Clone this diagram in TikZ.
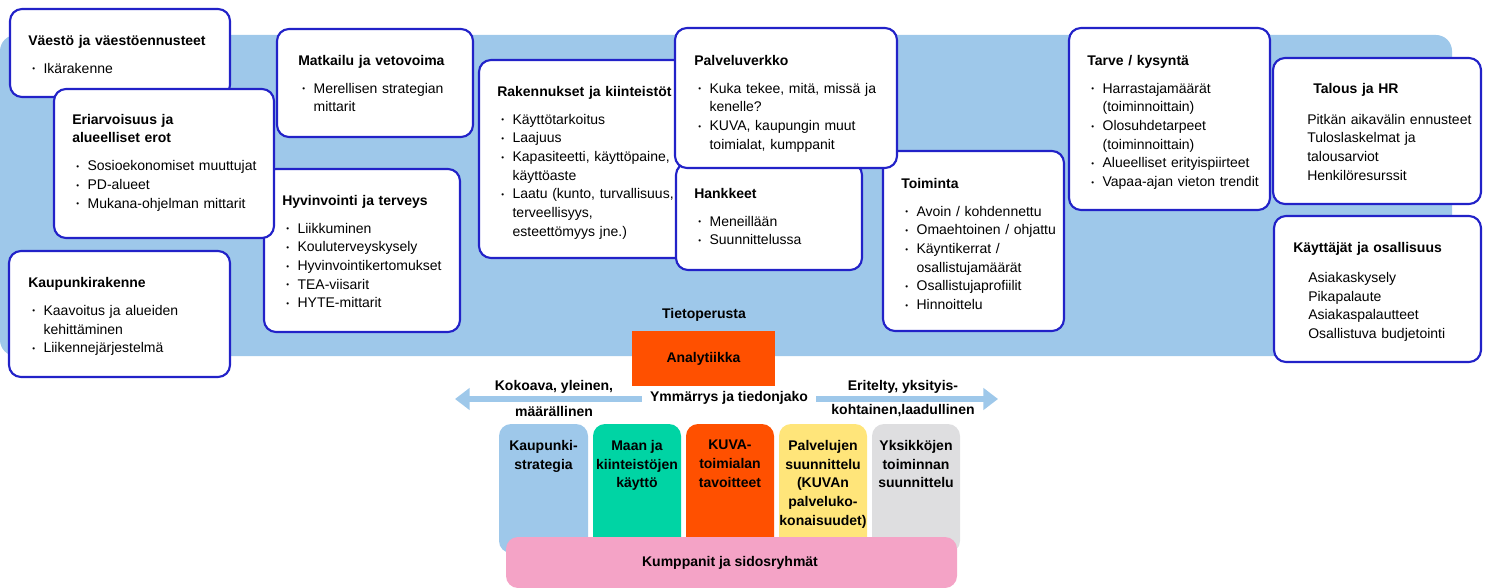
\documentclass[tikz,border=0pt]{standalone}
\usepackage{fontspec}
\setmainfont{Liberation Sans}
\usetikzlibrary{fit,arrows.meta}
\definecolor{bgblue}{HTML}{9EC8EA}
\definecolor{bordblue}{HTML}{2222C8}
\definecolor{korange}{HTML}{FF5000}
\definecolor{kteal}{HTML}{00D4A4}
\definecolor{kyellow}{HTML}{FFE57A}
\definecolor{kgrey}{HTML}{DEDEE0}
\definecolor{kpink}{HTML}{F4A3C6}
\setlength\parindent{0pt}
\newcommand\ttl[1]{\strut{\bfseries #1}\par\vspace{7pt}}
\newcommand\bu{\par\noindent\makebox[11.5pt][l]{\hspace{3pt}\raisebox{1.2pt}{\fontsize{6}{6}\selectfont\textbullet}}}
\newcommand\nl{\newline\hspace*{11.5pt}}
\tikzset{
  box/.style={draw=bordblue, line width=1.6pt, fill=white, rounded corners=9pt, inner sep=0pt},
  txt/.style={anchor=north west, inner sep=0pt, text width=230pt, align=left, font=\fontsize{10.5}{14}\selectfont},
  lbl/.style={inner sep=0pt, font=\fontsize{10.5}{14}\selectfont\bfseries},
  col/.style={rounded corners=9pt, inner sep=0pt},
  coltxt/.style={anchor=north, inner sep=0pt, align=center, font=\fontsize{10.5}{14}\selectfont\bfseries, execute at begin node=\strut},
  arr/.style={draw=bgblue, line width=4pt, {Triangle[length=11pt,width=16pt]}-{Triangle[length=11pt,width=16pt]}}
}
\begin{document}
\begin{tikzpicture}[x=0.75pt,y=-0.75pt]
\useasboundingbox (0,0) rectangle (1489,588);
% background band
\node[fill=bgblue, rounded corners=12pt, inner sep=0pt, fit={(0,35) (1452,356)}] (bg) {};

% boxes, back to front
\node[box, fit={(264,169) (460,332)}] (b5) {};
\node[box, fit={(10,9) (230,97)}] (b1) {};
\node[box, fit={(54,89) (274,238)}] (b2) {};
\node[box, fit={(9,251) (230,377)}] (b3) {};
\node[box, fit={(277,29) (473,137)}] (b4) {};
\node[box, fit={(479,60) (705,258)}] (b6) {};
\node[box, fit={(676,163) (862,270)}] (b8) {};
\node[box, fit={(883,151) (1064,331)}] (b9) {};
\node[box, fit={(675,28) (897,168)}] (b7) {};
\node[box, fit={(1069,28) (1270,210)}] (b10) {};
\node[box, fit={(1273,58) (1481,204)}] (b11) {};
\node[box, fit={(1274,216) (1481,362)}] (b12) {};

% box texts
\node[txt] (t1) at (28,32) {\ttl{Väestö ja väestöennusteet}\bu Ikärakenne};
\node[txt] (t2) at (72,111) {\ttl{Eriarvoisuus ja\newline alueelliset erot}\bu Sosioekonomiset muuttujat\bu PD-alueet\bu Mukana-ohjelman mittarit};
\node[txt] (t3) at (28,274) {\ttl{Kaupunkirakenne}\bu Kaavoitus ja alueiden\nl kehittäminen\bu Liikennejärjestelmä};
\node[txt] (t4) at (298,52) {\ttl{Matkailu ja vetovoima}\bu Merellisen strategian\nl mittarit};
\node[txt] (t5) at (282,192) {\ttl{Hyvinvointi ja terveys}\bu Liikkuminen\bu Kouluterveyskysely\bu Hyvinvointikertomukset\bu TEA-viisarit\bu HYTE-mittarit};
\node[txt] (t6) at (497,83) {\ttl{Rakennukset ja kiinteistöt}\bu Käyttötarkoitus\bu Laajuus\bu Kapasiteetti, käyttöpaine,\nl käyttöaste\bu Laatu (kunto, turvallisuus,\nl terveellisyys,\nl esteettömyys jne.)};
\node[txt] (t8) at (694,185) {\ttl{Hankkeet}\bu Meneillään\bu Suunnittelussa};
\node[txt] (t7) at (694,52) {\ttl{Palveluverkko}\bu Kuka tekee, mitä, missä ja\nl kenelle?\bu KUVA, kaupungin muut\nl toimialat, kumppanit};
\node[txt] (t9) at (901,175) {\ttl{Toiminta}\bu Avoin / kohdennettu\bu Omaehtoinen / ohjattu\bu Käyntikerrat /\nl osallistujamäärät\bu Osallistujaprofiilit\bu Hinnoittelu};
\node[txt] (t10) at (1087,52) {\ttl{Tarve / kysyntä}\bu Harrastajamäärät\nl (toiminnoittain)\bu Olosuhdetarpeet\nl (toiminnoittain)\bu Alueelliset erityispiirteet\bu Vapaa-ajan vieton trendit};
\node[txt] (t11a) at (1313,80) {\strut\bfseries Talous ja HR};
\node[txt] (t11b) at (1307,111) {\strut Pitkän aikavälin ennusteet\newline Tuloslaskelmat ja\newline talousarviot\newline Henkilöresurssit};
\node[txt] (t12a) at (1293,239) {\strut\bfseries Käyttäjät ja osallisuus};
\node[txt] (t12b) at (1308,269) {\strut Asiakaskysely\newline Pikapalaute\newline Asiakaspalautteet\newline Osallistuva budjetointi};

% lower part
\node[lbl] (tp) at (704,315) {Tietoperusta};
\node[fill=korange, inner sep=0pt, fit={(632,331) (775,386)}] (an) {};
\node[lbl] (ant) at (an.center) {Analytiikka};

\coordinate (aL) at (455,399);
\coordinate (aR) at (998,399);
\draw[arr] (aL) -- (aR);
\node[lbl, fill=white, inner xsep=6pt, inner ysep=3pt] (ym) at (729,398) {Ymmärrys ja tiedonjako};
\node[lbl] (kl1) at (554,387) {Kokoava, yleinen,};
\node[lbl] (kl2) at (554,411) {määrällinen};
\node[lbl] (kr1) at (903,387) {Eritelty, yksityis-};
\node[lbl] (kr2) at (903,411) {kohtainen,laadullinen};

\node[col, fill=bgblue, fit={(499,424) (588,553)}] (c1) {};
\node[col, fill=kteal, fit={(593,424) (681,553)}] (c2) {};
\node[col, fill=korange, fit={(686,424) (774,553)}] (c3) {};
\node[col, fill=kyellow, fit={(779,424) (867,553)}] (c4) {};
\node[col, fill=kgrey, fit={(872,424) (960,553)}] (c5) {};
\node[coltxt] (c1t) at (543.5,440) {Kaupunki-\\strategia};
\node[coltxt] (c2t) at (637,440) {Maan ja\\kiinteistöjen\\käyttö};
\node[coltxt] (c3t) at (730,440) {KUVA-\\toimialan\\tavoitteet};
\node[coltxt] (c4t) at (823,440) {Palvelujen\\suunnittelu\\(KUVAn\\palveluko-\\konaisuudet)};
\node[coltxt] (c5t) at (916,440) {Yksikköjen\\toiminnan\\suunnittelu};

\node[col, fill=kpink, fit={(506,537) (957,588)}] (kp) {};
\node[lbl] (kpt) at (730,563) {Kumppanit ja sidosryhmät};
\end{tikzpicture}
\end{document}
